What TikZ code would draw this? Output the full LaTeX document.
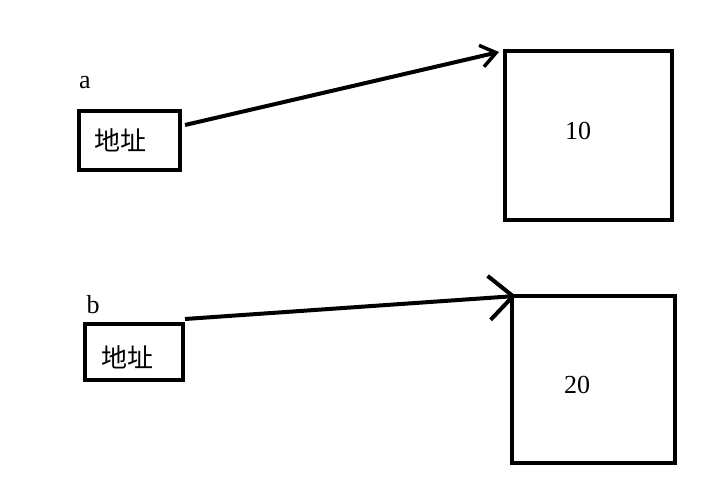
\documentclass[tikz,border=0pt]{standalone}
\usepackage{fontspec}
\setmainfont{Liberation Serif}
\newfontfamily\cjk{Noto Sans CJK SC}
\usetikzlibrary{arrows.meta}
\begin{document}
\begin{tikzpicture}[x=1pt,y=-1pt,
  thick box/.style={draw=black,line width=4pt,inner sep=0pt},
  conn/.style={line width=4pt,-{Straight Barb[length=15pt,width=22pt,line width=3.5pt]}},
  conn big/.style={line width=4pt,-{Straight Barb[length=24pt,width=44pt,line width=4pt]}},
  lbl/.style={font=\fontsize{26}{28}\selectfont},
  cjklbl/.style={font=\cjk\fontsize{26}{28}\selectfont}]
\useasboundingbox (0,0) rectangle (726,497);
% top
\node[thick box,minimum width=101pt,minimum height=59pt] (pa) at (129.5,140.5) {};
\node[cjklbl] (pat) at (120,140) {地址};
\node[lbl,anchor=base] (la) at (85,89) {a};
\node[thick box,minimum width=167pt,minimum height=169pt] (va) at (588.5,135.5) {};
\node[lbl] (vat) at (578,131) {10};
\coordinate (sa) at (185,125);
\coordinate (ea) at (499,52);
\draw[conn] (sa) -- (ea);
% bottom
\node[thick box,minimum width=98pt,minimum height=56pt] (pb) at (134,352) {};
\node[cjklbl] (pbt) at (127,357) {地址};
\node[lbl,anchor=base] (lb) at (93,313) {b};
\node[thick box,minimum width=163pt,minimum height=167pt] (vb) at (593.5,379.5) {};
\node[lbl] (vbt) at (577,385) {20};
\coordinate (sb) at (185,319);
\coordinate (eb) at (516,296);
\draw[conn big] (sb) -- (eb);
\end{tikzpicture}
\end{document}
